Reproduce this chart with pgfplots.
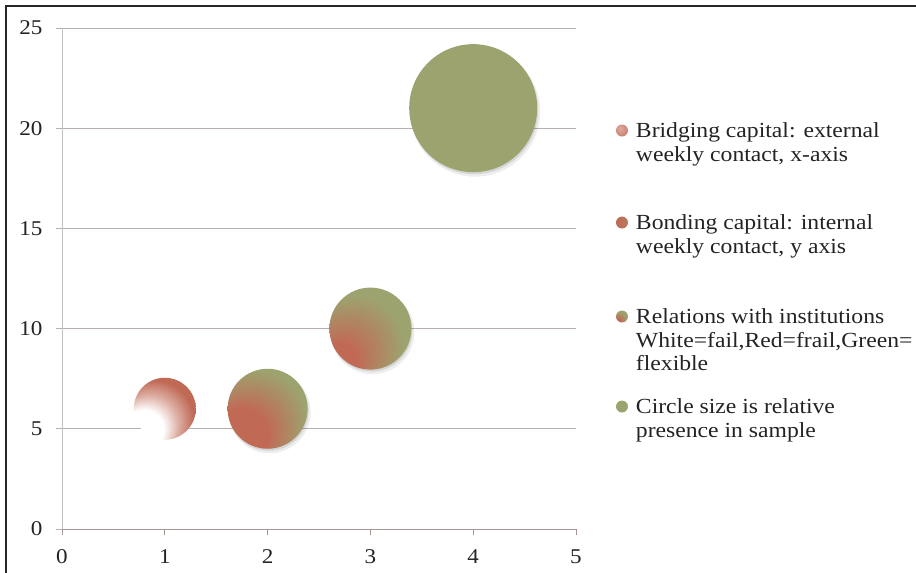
\documentclass[border=0pt]{standalone}
\usepackage{pgfplots}
\pgfplotsset{compat=1.18}
\usepackage{fontspec}
\setmainfont{Liberation Serif}[FakeStretch=1.1]
\definecolor{bred}{RGB}{192,106,86}
\definecolor{bgreen}{RGB}{157,163,110}
\definecolor{gridc}{RGB}{185,176,176}
\definecolor{xaxc}{RGB}{165,150,150}
\definecolor{yaxc}{RGB}{192,192,192}
\definecolor{txt}{RGB}{35,35,35}

\pgfdeclareradialshading{shA}{\pgfpoint{-25bp}{-25bp}}{color(0bp)=(white); color(16bp)=(white); color(24bp)=(bred!55); color(32bp)=(bred); color(50bp)=(bred)}
\pgfdeclareradialshading{shB}{\pgfpoint{-25bp}{-25bp}}{color(0bp)=(bred); color(17bp)=(bred); color(33bp)=(bgreen); color(50bp)=(bgreen)}
\pgfdeclareradialshading{shC}{\pgfpoint{-25bp}{-25bp}}{color(0bp)=(bred); color(11bp)=(bred); color(30bp)=(bgreen); color(50bp)=(bgreen)}
\pgfdeclareradialshading{shL}{\pgfpoint{-10bp}{10bp}}{color(0bp)=(bred!55); color(20bp)=(bred!75); color(40bp)=(bred!95); color(50bp)=(bred)}

\pgfdeclareplotmark{bubA}{%
  \shade[draw=none, shading=shA] (0pt,0pt) circle (\the\pgfplotmarksize);}
\pgfdeclareplotmark{bubB}{%
  \fill[draw=none, black, opacity=0.07] (2pt,-3.5pt) circle (\the\pgfplotmarksize+1pt);
  \fill[draw=none, black, opacity=0.10] (1pt,-2pt) circle (\the\pgfplotmarksize);
  \shade[draw=none, shading=shB] (0pt,0pt) circle (\the\pgfplotmarksize);}
\pgfdeclareplotmark{bubC}{%
  \fill[draw=none, black, opacity=0.07] (2pt,-3.5pt) circle (\the\pgfplotmarksize+1pt);
  \fill[draw=none, black, opacity=0.10] (1pt,-2pt) circle (\the\pgfplotmarksize);
  \shade[draw=none, shading=shC] (0pt,0pt) circle (\the\pgfplotmarksize);}
\pgfdeclareplotmark{bubD}{%
  \fill[draw=none, black, opacity=0.07] (2pt,-3.5pt) circle (\the\pgfplotmarksize+1pt);
  \fill[draw=none, black, opacity=0.10] (1pt,-2pt) circle (\the\pgfplotmarksize);
  \fill[draw=none, bgreen] (0pt,0pt) circle (\the\pgfplotmarksize);}
\pgfdeclareplotmark{lgA}{\shade[draw=none, shading=shL] (0pt,0pt) circle (\the\pgfplotmarksize);}
\pgfdeclareplotmark{lgB}{\shade[draw=none, left color=bred, right color=bred!75!bgreen] (0pt,0pt) circle (\the\pgfplotmarksize);}
\pgfdeclareplotmark{lgC}{\shade[draw=none, shading=shC] (0pt,0pt) circle (\the\pgfplotmarksize);}
\pgfdeclareplotmark{lgD}{\fill[draw=none, bgreen] (0pt,0pt) circle (\the\pgfplotmarksize);}

\begin{document}
\begin{tikzpicture}[x=1pt,y=1pt]
\useasboundingbox (0,0) rectangle (916,573);
\draw[line width=2pt, black!85] (6,-5) -- (6,567) -- (925,567);
\begin{axis}[
  at={(62pt,44pt)}, anchor=south west,
  scale only axis, width=514pt, height=501pt,
  xmin=0, xmax=5, ymin=0, ymax=25,
  xtick={0,1,2,3,4,5}, ytick={0,5,10,15,20,25},
  axis x line*=bottom, axis y line*=left,
  x axis line style={xaxc, line width=0.8pt},
  y axis line style={yaxc, line width=0.8pt},
  ymajorgrids, grid style={gridc, line width=0.8pt},
  tick align=outside, major tick length=6pt,
  x tick style={xaxc, line width=0.8pt},
  y tick style={gridc, line width=0.8pt},
  tick label style={font=\fontsize{21}{21}\selectfont, text=txt},
  xticklabel style={yshift=-11pt},
  yticklabel style={xshift=-10pt},
  /pgf/number format/assume math mode=true,
  clip=false,
  legend image code/.code={\draw[#1] plot coordinates {(0pt,7pt)};},
  legend style={draw=none, fill=none, inner sep=0pt, outer sep=0pt,
    at={(1.0778,0.8112)}, anchor=north west,
    row sep=0pt, column sep=8pt,
    nodes={inner sep=0pt, text depth=},
    cells={anchor=base west},
    font=\fontsize{21.5}{23.5}\selectfont, text=txt},
]
\addplot[only marks, mark=bubA, mark size=31pt, forget plot] coordinates {(1,6)};
\addplot[only marks, mark=bubB, mark size=40pt, forget plot] coordinates {(2,6)};
\addplot[only marks, mark=bubC, mark size=41pt, forget plot] coordinates {(3,10)};
\addplot[only marks, mark=bubD, mark size=64pt, forget plot] coordinates {(4,21)};

\addlegendimage{mark=lgA, mark size=6pt}
\addlegendentry{\parbox[t][92pt][t]{290pt}{Bridging capital: external\\weekly contact, x-axis}}
\addlegendimage{mark=lgB, mark size=6pt}
\addlegendentry{\parbox[t][94pt][t]{290pt}{Bonding capital: internal\\weekly contact, y axis}}
\addlegendimage{mark=lgC, mark size=6pt}
\addlegendentry{\parbox[t][90pt][t]{290pt}{Relations with institutions\\White=fail,Red=frail,Green=\\flexible}}
\addlegendimage{mark=lgD, mark size=6pt}
\addlegendentry{\parbox[t][50pt][t]{290pt}{Circle size is relative\\presence in sample}}
\end{axis}
\end{tikzpicture}
\end{document}
